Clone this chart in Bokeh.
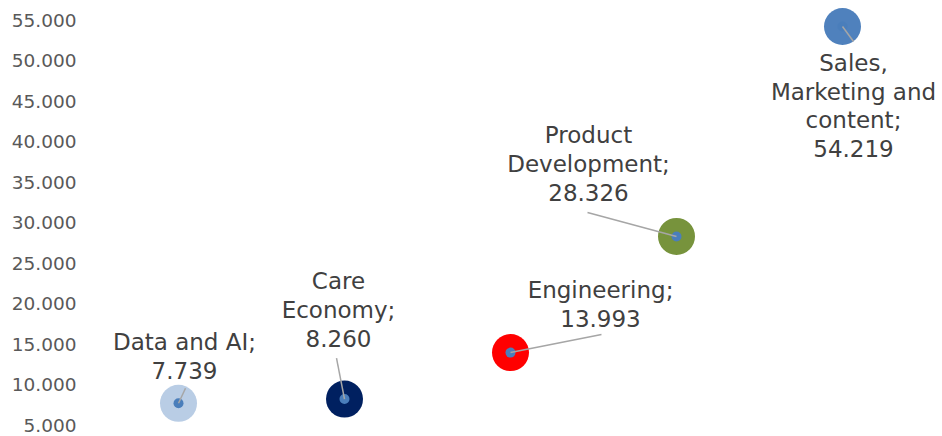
from bokeh.plotting import figure
from bokeh.models import ColumnDataSource, FixedTicker, Range1d
from bokeh.embed import file_html
from bokeh.resources import INLINE
from bokeh.core.properties import value

# ---- data ----
categories = ["Data and AI", "Care Economy", "Engineering",
              "Product Development", "Sales, Marketing and content"]
label_texts = ["Data and AI;\n7.739",
               "Care\nEconomy;\n8.260",
               "Engineering;\n13.993",
               "Product\nDevelopment;\n28.326",
               "Sales,\nMarketing and\ncontent;\n54.219"]
x_pos = [1, 2, 3, 4, 5]
values = [7739, 8260, 13993, 28326, 54219]
bubble_colors = ["#B9CDE5", "#002060", "#FF0000", "#77933C", "#4F81BD"]
y_ticks = [5000, 10000, 15000, 20000, 25000, 30000, 35000, 40000, 45000, 50000, 55000]
y_tick_labels = ["5.000", "10.000", "15.000", "20.000", "25.000", "30.000",
                 "35.000", "40.000", "45.000", "50.000", "55.000"]

# ---- label placement (screen pixel offsets from bubble centre) ----
text_dx = [6, -6, 90, -88, 11]
text_dy = [-47, -89, -48.5, -72.5, 79.5]
lead_dx = [7, -8, 91, -89, 11]
lead_dy = [-15, -41, -18, -24, 15]

# ---- layout ----
W, H = 942, 436
left, right_b, bottom_b = 88, 0, 0
x_start, x_end = 0.457831, 5.602410
y_start, y_end = 3643.0, 57430.3
px_x = (W - left - right_b) / (x_end - x_start)
px_y = (H - bottom_b) / (y_end - y_start)

lead_x1 = [x + dx / px_x for x, dx in zip(x_pos, lead_dx)]
lead_y1 = [v - dy / px_y for v, dy in zip(values, lead_dy)]

src = ColumnDataSource(dict(x=x_pos, y=values, color=bubble_colors,
                            label=label_texts, dx=text_dx, dy=text_dy,
                            x1=lead_x1, y1=lead_y1))

p = figure(width=W, height=H, output_backend="svg", toolbar_location=None,
           x_range=Range1d(x_start, x_end), y_range=Range1d(y_start, y_end),
           min_border_left=left, min_border_right=right_b,
           min_border_bottom=bottom_b, min_border_top=0, title=None)

p.outline_line_color = None
p.xgrid.visible = False
p.ygrid.visible = False
p.xaxis.visible = False

ya = p.yaxis[0]
ya.ticker = FixedTicker(ticks=y_ticks)
ya.major_label_overrides = {t: l for t, l in zip(y_ticks, y_tick_labels)}
ya.axis_line_color = None
ya.major_tick_line_color = None
ya.minor_tick_line_color = None
ya.major_tick_out = 0
ya.major_tick_in = 0
ya.major_label_standoff = 12
ya.major_label_text_font = "DejaVu Sans"
ya.major_label_text_font_size = "18.5px"
ya.major_label_text_color = "#595959"

p.scatter("x", "y", source=src, size=37, fill_color="color", line_color=None)
p.scatter("x", "y", source=src, size=10, fill_color="#4A7EBB", line_color=None)
p.segment(x0="x", y0="y", x1="x1", y1="y1", source=src,
          line_color="#A6A6A6", line_width=1.5)
p.text("x", "y", text="label", source=src, x_offset="dx", y_offset="dy",
       text_align="center", text_baseline="middle",
       text_font=value("DejaVu Sans"), text_font_size="23px",
       text_color="#404040", text_line_height=1.11)

open("out.html", "w").write(file_html(p, INLINE))
